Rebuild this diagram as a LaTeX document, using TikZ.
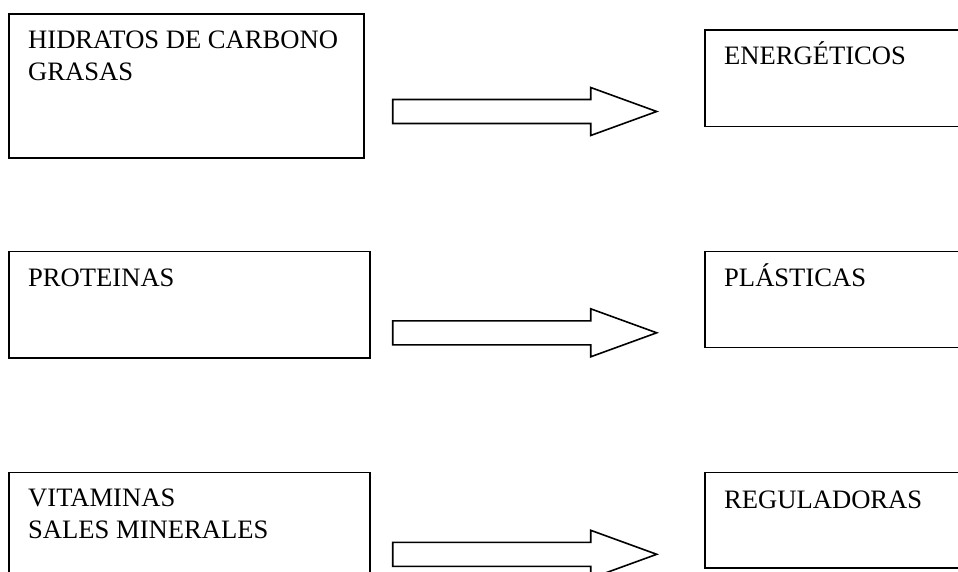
\documentclass[tikz,border=0pt]{standalone}
\usepackage{fontspec}
\setmainfont{Liberation Serif}
\usetikzlibrary{calc}
\begin{document}
\begin{tikzpicture}[x=1pt,y=-1pt,
  box/.style={draw=black,line width=1.6pt,fill=white,inner sep=0pt,anchor=north west},
  lbl/.style={anchor=base west,inner sep=0pt,align=left,font=\fontsize{26.6}{31.3}\selectfont},
  blockarrow/.style={draw=black,line width=1.6pt,fill=white,line join=miter}]
\clip (0,0) rectangle (958,572);
\fill[white] (0,0) rectangle (958,572);
% left boxes
\node[box,minimum width=355pt,minimum height=144pt] (b1) at (8.3,13.3) {};
\node[box,minimum width=360.7pt,minimum height=106.6pt] (b3) at (8.3,250.7) {};
\node[box,minimum width=360.7pt,minimum height=120pt] (b5) at (8.3,471.7) {};
% right boxes
\node[box,minimum width=280pt,minimum height=96.4pt] (b2) at (704,29.3) {};
\node[box,minimum width=280pt,minimum height=96pt] (b4) at (704,250.7) {};
\node[box,minimum width=280pt,minimum height=95.6pt] (b6) at (704,471.7) {};
% texts (multi-line: anchored at last line baseline)
\node[lbl] (t1) at (28,80.3) {HIDRATOS DE CARBONO\\GRASAS};
\node[lbl] (t2) at (724,65) {ENERGÉTICOS};
\node[lbl] (t3) at (28,286) {PROTEINAS};
\node[lbl] (t4) at (724,286) {PLÁSTICAS};
\node[lbl] (t5) at (28,538) {VITAMINAS\\SALES MINERALES};
\node[lbl] (t6) at (724,508) {REGULADORAS};
% arrow tails
\coordinate (a1) at (392.7,111.5);
\coordinate (a2) at (392.7,332.8);
\coordinate (a3) at (392.7,554.3);
\foreach \a in {a1,a2,a3}{
  \draw[blockarrow] ($(\a)+(0,-12)$) -- ($(\a)+(198,-12)$) -- ($(\a)+(198,-24)$)
    -- ($(\a)+(264,0)$) -- ($(\a)+(198,24)$) -- ($(\a)+(198,12)$) -- ($(\a)+(0,12)$) -- cycle;
}
\end{tikzpicture}
\end{document}
